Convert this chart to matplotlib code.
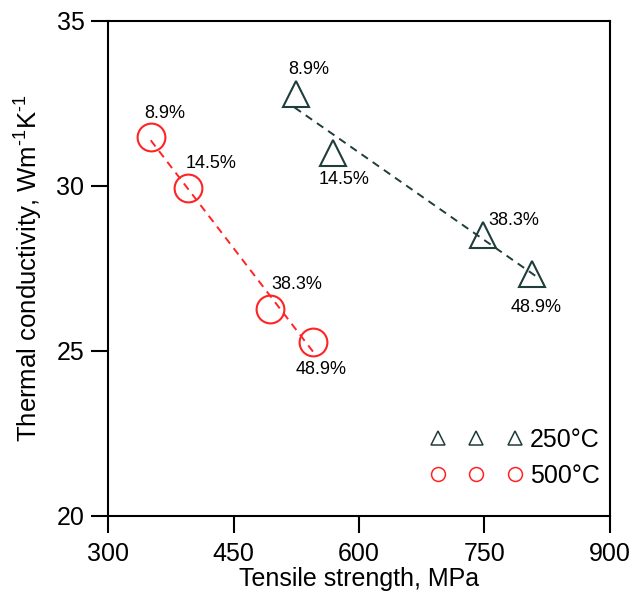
import numpy as np
import matplotlib.pyplot as plt

plt.rcParams.update({
    "font.family": ["Liberation Sans", "DejaVu Sans"],
    "mathtext.fontset": "custom",
    "mathtext.rm": "Liberation Sans",
    "mathtext.it": "Liberation Sans",
    "mathtext.default": "regular",
})

# ── data ──────────────────────────────────────────────────────────────────────
labels = ["8.9%", "14.5%", "38.3%", "48.9%"]

ts_250 = [525, 569, 748, 807]
tc_250 = [32.78, 31.0, 28.52, 27.32]

ts_500 = [351, 395, 494, 545]
tc_500 = [31.49, 29.92, 26.25, 25.27]

# label offsets (points) for each annotation
off_250 = [(9, 18), (8, -19), (22, 10), (3, -24)]
off_500 = [(10, 17), (17, 18), (19, 18), (6, -20)]

C250 = "#1f3d3a"
C500 = "#ff2424"

fig, ax = plt.subplots(figsize=(6.32, 5.96), dpi=100)
fig.subplots_adjust(left=0.171, right=0.965, top=0.965, bottom=0.135)

# fitted trend lines
for xs, ys, c, x0, x1 in [(ts_250, tc_250, C250, 523, 811),
                          (ts_500, tc_500, C500, 351, 548)]:
    k, b = np.polyfit(xs, ys, 1)
    xx = np.array([x0, x1])
    ax.plot(xx, k * xx + b, ls=(0, (4, 3)), color=c, lw=1.4)

ax.plot(ts_250, tc_250, ls="none", marker="^", ms=19, mfc="none",
        mec=C250, mew=1.5, label="250°C")
ax.plot(ts_500, tc_500, ls="none", marker="o", ms=20, mfc="none",
        mec=C500, mew=1.5, label="500°C")

for xs, ys, offs in [(ts_250, tc_250, off_250), (ts_500, tc_500, off_500)]:
    for x, y, t, o in zip(xs, ys, labels, offs):
        ax.annotate(t, (x, y), xytext=o, textcoords="offset points",
                    ha="center", va="center", fontsize=13)

ax.set_xlim(300, 900)
ax.set_ylim(20, 35)
ax.set_xticks([300, 450, 600, 750, 900])
ax.set_yticks([20, 25, 30, 35])
ax.tick_params(direction="out", length=12, width=1.5, labelsize=18,
               top=False, right=False)
ax.tick_params(axis="x", pad=7)
ax.tick_params(axis="y", pad=5)
for s in ax.spines.values():
    s.set_linewidth(1.5)

ax.set_xlabel("Tensile strength, MPa", fontsize=18, labelpad=1)
ax.set_ylabel(r"Thermal conductivity, Wm$^{\text{-}1}$K$^{\text{-}1}$",
              fontsize=18.5, labelpad=8)

leg = ax.legend(loc="lower right", bbox_to_anchor=(1.0, 0.035), frameon=False,
                numpoints=3, markerscale=0.5, fontsize=18, handlelength=3.7,
                handletextpad=0.3, labelspacing=0.5, borderaxespad=0)
for h in leg.legend_handles:
    h.set_markeredgewidth(1.1)

fig.savefig("out.png", dpi=100)
